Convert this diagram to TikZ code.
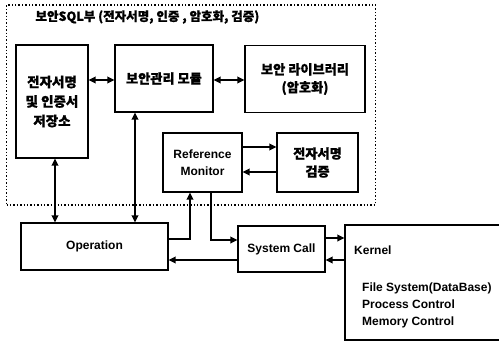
\documentclass[tikz,border=0pt]{standalone}
\usepackage{fontspec}
\setmainfont{Liberation Sans}
\newfontfamily\kr{Noto Sans CJK KR}[BoldFeatures={FakeBold=0.8}]
\usetikzlibrary{arrows.meta}
\begin{document}
\begin{tikzpicture}[x=1pt,y=-1pt,
  box/.style={draw, line width=1.1pt, inner sep=0pt, align=center, fill=white},
  titletext/.style={font=\kr\bfseries\fontsize{12.5}{18}\selectfont},
  krtext/.style={font=\kr\bfseries\fontsize{13.2}{18}\selectfont},
  krbig/.style={font=\kr\bfseries\fontsize{13.5}{19.5}\selectfont},
  lattext/.style={font=\bfseries\fontsize{12}{17}\selectfont},
  arr/.style={line width=1.8pt, -{Triangle[length=7pt,width=6.5pt]}},
  darr/.style={line width=1.8pt, {Triangle[length=7pt,width=6.5pt]}-{Triangle[length=7pt,width=6.5pt]}},
  frame/.style={draw, dotted, line width=1.4pt, inner sep=0pt}]
\useasboundingbox (0,0) rectangle (499,343);
\clip (0,0) rectangle (499,343);
\fill[white] (0,0) rectangle (499,343);
\node[frame, minimum width=369pt, minimum height=200pt] (frame) at (191,105) {};
\node[titletext, anchor=west] (title) at (32,17) {보안SQL부 (전자서명, 인증 , 암호화, 검증)};
\node[box, krbig, minimum width=72pt, minimum height=113pt] (b1) at (52,101.5) {전자서명\\및 인증서\\저장소};
\node[box, krtext, minimum width=98pt, minimum height=67pt] (b2) at (164,78.5) {보안관리 모듈};
\node[box, krtext, minimum width=120pt, minimum height=67pt] (b3) at (305,79) {보안 라이브러리\\(암호화)};
\node[box, lattext, minimum width=79pt, minimum height=59pt] (rm) at (202.5,162.5) {Reference\\Monitor};
\node[box, krtext, minimum width=81pt, minimum height=59pt] (v) at (317.5,162.5) {전자서명\\검증};
\node[box, lattext, minimum width=147pt, minimum height=47pt] (op) at (94.5,246.5) {Operation};
\node[box, lattext, minimum width=87pt, minimum height=46pt] (sc) at (281.5,249) {System Call};
\node[box, minimum width=175pt, minimum height=115pt] (k) at (432.5,282.5) {};
\node[lattext, anchor=west, inner sep=0pt] (kt) at (354,250) {Kernel};
\node[lattext, anchor=north west, align=left, inner sep=0pt] (kl) at (362,283) {File System(DataBase)\\Process Control\\Memory Control};
% connectors
\draw[darr] (b1.east |- 0,80) -- (b2.west |- 0,80);
\draw[darr] (b2.east |- 0,80) -- (b3.west |- 0,80);
\draw[darr] ([xshift=3pt]b1.south) -- ([xshift=3pt]b1.south |- op.north);
\draw[darr] ([xshift=-29pt]b2.south) -- ([xshift=-29pt]b2.south |- op.north);
\draw[arr] ([yshift=7.5pt]op.east) -| ([xshift=-12.5pt]rm.south);
\draw[arr] ([xshift=8.5pt]rm.south) |- ([yshift=9pt]sc.west);
\draw[arr] ([yshift=-11pt]sc.west) -- ([yshift=-11pt]sc.west -| op.east);
\draw[arr] ([yshift=11pt]sc.east) -- ([yshift=11pt]sc.east -| k.west);
\draw[arr] ([yshift=-11pt]sc.east -| k.west) -- ([yshift=-11pt]sc.east);
\draw[arr] ([yshift=15.5pt]rm.east) -- ([yshift=15.5pt]rm.east -| v.west);
\draw[arr] ([yshift=-9.5pt]v.west) -- ([yshift=-9.5pt]v.west -| rm.east);
\end{tikzpicture}
\end{document}
